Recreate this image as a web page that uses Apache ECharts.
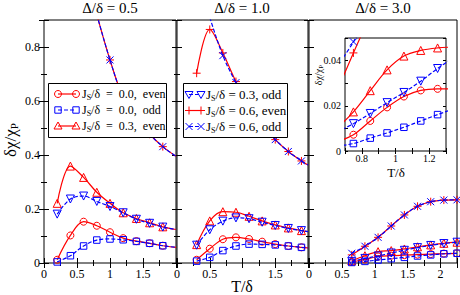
<!DOCTYPE html>
<html><head><meta charset="utf-8">
<script src="https://cdn.jsdelivr.net/npm/echarts@6.0.0/dist/echarts.min.js"></script>
<style>html,body{margin:0;padding:0;background:#fff}#c{width:460px;height:295px}</style>
</head><body><div id="c"></div>
<script>
const FONT = '"Liberation Serif","Times New Roman",serif';

// ---- text ----
const panelTitles = ['Δ/δ = 0.5', 'Δ/δ = 1.0', 'Δ/δ = 3.0'];
const legendTexts1 = ['/δ  =  0.0,  even', '/δ  =  0.0,  odd', '/δ  =  0.3,  even'];
const legendTexts2 = ['/δ = 0.3, odd', '/δ = 0.6, even', '/δ = 0.6, odd'];

// ---- tick labels ----
const xTickLabels1 = [0, 0.5, 1, 1.5];
const xTickLabels2 = [0, 0.5, 1.5];
const xTickLabels3 = [0, 0.5, 1, 1.5, 2];
const yTickLabels = [0, 0.2, 0.4, 0.6, 0.8];
const insetXTickLabels = [0.8, 1, 1.2];
const insetYTickLabels = [0, 0.02, 0.04];

// ---- panel 1 : Δ/δ = 0.5 ----
const T1 = [0.2, 0.4, 0.6, 0.8, 1.0, 1.2, 1.4, 1.6, 1.8, 2.0];
const p1_J00_even = [0.012, 0.102, 0.153, 0.138, 0.114, 0.092, 0.081, 0.073, 0.064, 0.058];
const p1_J00_odd  = [0.004, 0.027, 0.063, 0.085, 0.089, 0.086, 0.080, 0.073, 0.064, 0.058];
const p1_J03_even = [0.221, 0.359, 0.317, 0.262, 0.221, 0.186, 0.165, 0.149, 0.134, 0.124];
const p1_J03_odd  = [0.181, 0.237, 0.248, 0.228, 0.209, 0.186, 0.162, 0.147, 0.133, 0.124];
const p1_J06_even = [null, null, null, 0.92, 0.752, 0.612, 0.532, 0.477, 0.431, 0.395];
const p1_J06_odd  = [null, null, null, 0.92, 0.752, 0.612, 0.532, 0.477, 0.431, 0.395];

// ---- panel 2 : Δ/δ = 1.0 ----
const T2 = [0.3, 0.5, 0.7, 0.9, 1.1, 1.3, 1.5, 1.7, 1.9, 2.0];
const p2_J00_even = [0.012, 0.053, 0.088, 0.095, 0.089, 0.079, 0.070, 0.063, 0.058, 0.056];
const p2_J00_odd  = [0.007, 0.021, 0.046, 0.063, 0.070, 0.069, 0.067, 0.063, 0.058, 0.056];
const p2_J03_even = [0.068, 0.156, 0.190, 0.188, 0.173, 0.156, 0.141, 0.130, 0.120, 0.116];
const p2_J03_odd  = [0.066, 0.123, 0.155, 0.167, 0.164, 0.151, 0.139, 0.128, 0.120, 0.116];
const p2_J06_even = [0.703, 0.865, 0.778, 0.672, 0.582, 0.512, 0.457, 0.413, 0.378, 0.363];
const p2_J06_odd  = [null, 0.910, 0.768, 0.668, 0.582, 0.512, 0.457, 0.413, 0.378, 0.363];

// ---- panel 3 : Δ/δ = 3.0 ----
const T3 = [0.65, 0.85, 1.05, 1.25, 1.45, 1.65, 1.85, 2.05, 2.25];
const p3_J00_even = [0.004, 0.013, 0.024, 0.027, 0.029, 0.031, 0.033, 0.035, 0.036];
const p3_J00_odd  = [0.002, 0.006, 0.011, 0.016, 0.021, 0.026, 0.030, 0.034, 0.036];
const p3_J03_even = [0.008, 0.027, 0.042, 0.046, 0.052, 0.060, 0.067, 0.073, 0.077];
const p3_J03_odd  = [0.006, 0.017, 0.026, 0.037, 0.047, 0.057, 0.065, 0.072, 0.077];
const p3_J06_even = [0.030, 0.062, 0.095, 0.137, 0.178, 0.210, 0.227, 0.233, 0.234];
const p3_J06_odd  = [0.036, 0.062, 0.095, 0.137, 0.178, 0.210, 0.227, 0.233, 0.234];

// ---- inset (Δ/δ = 3.0, low T) ----
const TI = [0.65, 0.75, 0.85, 0.95, 1.05, 1.15, 1.25, 1.35];
const in_J00_even = [0.0040, 0.0072, 0.0133, 0.0193, 0.0241, 0.0268, 0.0275, 0.0274];
const in_J00_odd  = [0.0022, 0.0033, 0.0057, 0.0080, 0.0105, 0.0133, 0.0161, 0.0188];
const in_J03_even = [0.0098, 0.0173, 0.0267, 0.0359, 0.0420, 0.0445, 0.0456, 0.0460];
const in_J03_odd  = [0.0083, 0.0121, 0.0166, 0.0214, 0.0259, 0.0309, 0.0365, 0.0415];
const TI6 = [0.65, 0.75, 0.85];
const in_J06_even = [0.0260, 0.0434, 0.0600];
const in_J06_odd  = [0.0370, 0.0483, 0.0620];

const RED = '#ff0000', BLUE = '#0000ff';
const styles = [
  {color: RED,  sym: 'circle', size: 7, dash: false, kind: 'circle'},
  {color: BLUE, sym: 'rect', size: 6.5, dash: true, kind: 'rect'},
  {color: RED,  sym: 'triangle', size: 8, dash: false, kind: 'tri'},
  {color: BLUE, sym: 'path://M0,0L10,0L5,9Z', size: 8, dash: true, kind: 'itri'},
  {color: RED,  sym: 'path://M5,0L5,10M0,5L10,5', size: 8, dash: false, kind: 'plus'},
  {color: BLUE, sym: 'path://M0,0L10,10M10,0L0,10', size: 7, dash: true, kind: 'cross'}
];

const grids = [
  {left: 44, top: 20, width: 132, height: 243},
  {left: 177, top: 20, width: 131, height: 243},
  {left: 309, top: 20, width: 148, height: 243},
  {left: 345, top: 38, width: 101, height: 113}
].map((g, i) => Object.assign(g, {show: true, borderColor: '#000', borderWidth: 1,
  backgroundColor: i === 3 ? '#fff' : 'transparent', containLabel: false}));

const xAxes = [], yAxes = [];
function fmtList(list) {
  return v => { for (const t of list) if (Math.abs(v - t) < 1e-6) return String(t); return ''; };
}
function axis(gi, pos, r, labels, fs, tickLen, minorLen, margin) {
  return {
    type: 'value', gridIndex: gi, position: pos, min: r[0], max: r[1], interval: r[2],
    axisLine: {show: false}, splitLine: {show: false},
    axisTick: {show: true, inside: true, length: tickLen, lineStyle: {color: '#000', width: 1}},
    minorTick: {show: r[3] > 1, splitNumber: r[3] > 1 ? r[3] : 2, length: minorLen, lineStyle: {color: '#000', width: 1}},
    minorSplitLine: {show: false},
    axisLabel: {show: !!labels, formatter: labels ? fmtList(labels) : undefined,
      fontFamily: FONT, fontSize: fs, color: '#000', margin: margin},
    axisPointer: {show: false}
  };
}
function addAxes(gi, xr, yr, xLab, yLab, fs, tl, ml, xm, ym) {
  xAxes.push(axis(gi, 'bottom', xr, xLab, fs, tl, ml, xm), axis(gi, 'top', xr, null, fs, tl, ml, xm));
  yAxes.push(axis(gi, 'left', yr, yLab, fs, tl, ml, ym), axis(gi, 'right', yr, null, fs, tl, ml, ym));
}
addAxes(0, [0, 2, 0.5, 2], [0, 0.9, 0.2, 2], xTickLabels1, yTickLabels, 12, 5, 3, 5, 4);
addAxes(1, [0, 2, 0.5, 2], [0, 0.9, 0.2, 2], xTickLabels2, null, 12, 5, 3, 5, 4);
addAxes(2, [0, 2.25, 0.5, 2], [0, 0.9, 0.2, 2], xTickLabels3, null, 12, 5, 3, 5, 4);
addAxes(3, [0.7, 1.3, 0.1, 0], [0, 0.05, 0.01, 0], insetXTickLabels, insetYTickLabels, 10, 3, 2, 2, 4);

const series = [];
function mk(gi, xs, ys, k, hideAtX) {
  const st = styles[k];
  const data = [];
  xs.forEach((x, i) => {
    const y = ys[i];
    if (y == null) return;
    const p = {value: [x, y]};
    if (hideAtX != null && Math.abs(x - hideAtX) < 1e-9) p.symbol = 'none';
    data.push(p);
  });
  series.push({
    type: 'line', xAxisIndex: 2 * gi, yAxisIndex: 2 * gi, data,
    smooth: 0.35, symbol: st.sym, symbolSize: st.size, showSymbol: true, showAllSymbol: true,
    clip: true, animation: false, silent: true, z: 2 + (st.color === BLUE ? 1 : 0),
    lineStyle: {color: st.color, width: 1.2, type: st.dash ? [4, 2] : 'solid'},
    itemStyle: {color: 'none', borderColor: st.color, borderWidth: 1},
    emphasis: {disabled: true}
  });
}
[p1_J00_even, p1_J00_odd, p1_J03_even, p1_J03_odd, p1_J06_even, p1_J06_odd]
  .forEach((ys, k) => mk(0, T1, ys, k, 2.0));
[p2_J00_even, p2_J00_odd, p2_J03_even, p2_J03_odd, p2_J06_even, p2_J06_odd]
  .forEach((ys, k) => mk(1, T2, ys, k, 2.0));
[p3_J00_even, p3_J00_odd, p3_J03_even, p3_J03_odd, p3_J06_even, p3_J06_odd]
  .forEach((ys, k) => mk(2, T3, ys, k, null));
[in_J00_even, in_J00_odd, in_J03_even, in_J03_odd]
  .forEach((ys, k) => mk(3, TI, ys, k, null));
mk(3, TI6, in_J06_even, 4, null);
mk(3, TI6, in_J06_odd, 5, null);

// ---- graphic: titles, axis names, legends ----
const graphic = [];
function txt(x, y, text, fs) {
  return {type: 'text', x, y, z: 100, silent: true,
    style: {text, fontFamily: FONT, fontSize: fs, fill: '#000', align: 'center', verticalAlign: 'middle'}};
}
const titleX = [110, 242, 383];
panelTitles.forEach((t, i) => graphic.push(txt(titleX[i], 8, t, 15)));
graphic.push(txt(242, 286, 'T/δ', 16));
graphic.push(txt(396, 172, 'T/δ', 13));
function subText(x, y, main, sub, fs, sfs, rot, align, extra) {
  return {type: 'text', x, y, rotation: rot || 0, z: 100, silent: true,
    style: {text: '{a|' + main + '}{s|' + sub + '}' + (extra ? '{a|' + extra + '}' : ''),
      align: align || 'center', verticalAlign: 'middle',
      rich: {a: {fontSize: fs, fontFamily: FONT, fill: '#000', lineHeight: fs + 2},
             s: {fontSize: sfs, fontFamily: FONT, fill: '#000', lineHeight: sfs, verticalAlign: 'bottom'}}}};
}
graphic.push(subText(10, 140, 'δχ/χ', 'P', 17, 11, Math.PI / 2));
graphic.push(subText(318, 75, 'δχ/χ', 'P', 10, 7, Math.PI / 2));

function marker(kind, cx, cy, color) {
  const s = {fill: 'none', stroke: color, lineWidth: 1};
  const o = (e) => Object.assign(e, {z: 102, silent: true});
  switch (kind) {
    case 'circle': return [o({type: 'circle', shape: {cx, cy, r: 3.5}, style: s})];
    case 'rect': return [o({type: 'rect', shape: {x: cx - 3.2, y: cy - 3.2, width: 6.4, height: 6.4}, style: s})];
    case 'tri': return [o({type: 'polygon', shape: {points: [[cx, cy - 4], [cx + 4, cy + 3], [cx - 4, cy + 3]]}, style: s})];
    case 'itri': return [o({type: 'polygon', shape: {points: [[cx - 4, cy - 3], [cx + 4, cy - 3], [cx, cy + 4]]}, style: s})];
    case 'plus': return [o({type: 'line', shape: {x1: cx - 4, y1: cy, x2: cx + 4, y2: cy}, style: s}),
                         o({type: 'line', shape: {x1: cx, y1: cy - 4, x2: cx, y2: cy + 4}, style: s})];
    case 'cross': return [o({type: 'line', shape: {x1: cx - 3.5, y1: cy - 3.5, x2: cx + 3.5, y2: cy + 3.5}, style: s}),
                          o({type: 'line', shape: {x1: cx + 3.5, y1: cy - 3.5, x2: cx - 3.5, y2: cy + 3.5}, style: s})];
  }
  return [];
}
function legend(box, entries, texts, sx1, sx2, tx, rows, fs) {
  graphic.push({type: 'rect', z: 100, silent: true,
    shape: {x: box[0] + 0.5, y: box[1] + 0.5, width: box[2], height: box[3]},
    style: {fill: '#fff', stroke: '#000', lineWidth: 1}});
  entries.forEach((k, i) => {
    const st = styles[k], cy = rows[i];
    graphic.push({type: 'line', z: 101, silent: true, shape: {x1: sx1, y1: cy, x2: sx2, y2: cy},
             style: {stroke: st.color, lineWidth: 1.2, lineDash: st.dash ? [4, 2] : null}});
    graphic.push(...marker(st.kind, sx1, cy, st.color), ...marker(st.kind, sx2, cy, st.color));
    const t = subText(tx, cy, 'J', 'S', fs, 8, 0, 'left', texts[i]);
    t.z = 102;
    graphic.push(t);
  });
}
legend([48, 83, 118, 54], [0, 1, 2], legendTexts1, 58, 76, 82, [94, 110, 126], 12);
legend([183, 83, 104, 54], [3, 4, 5], legendTexts2, 189, 201, 206, [94.5, 110.5, 126.5], 13);

const chart = echarts.init(document.getElementById('c'), null, {renderer: 'svg', width: 460, height: 295});
chart.setOption({
  animation: false,
  backgroundColor: '#fff',
  grid: grids, xAxis: xAxes, yAxis: yAxes, series, graphic
});
</script></body></html>
